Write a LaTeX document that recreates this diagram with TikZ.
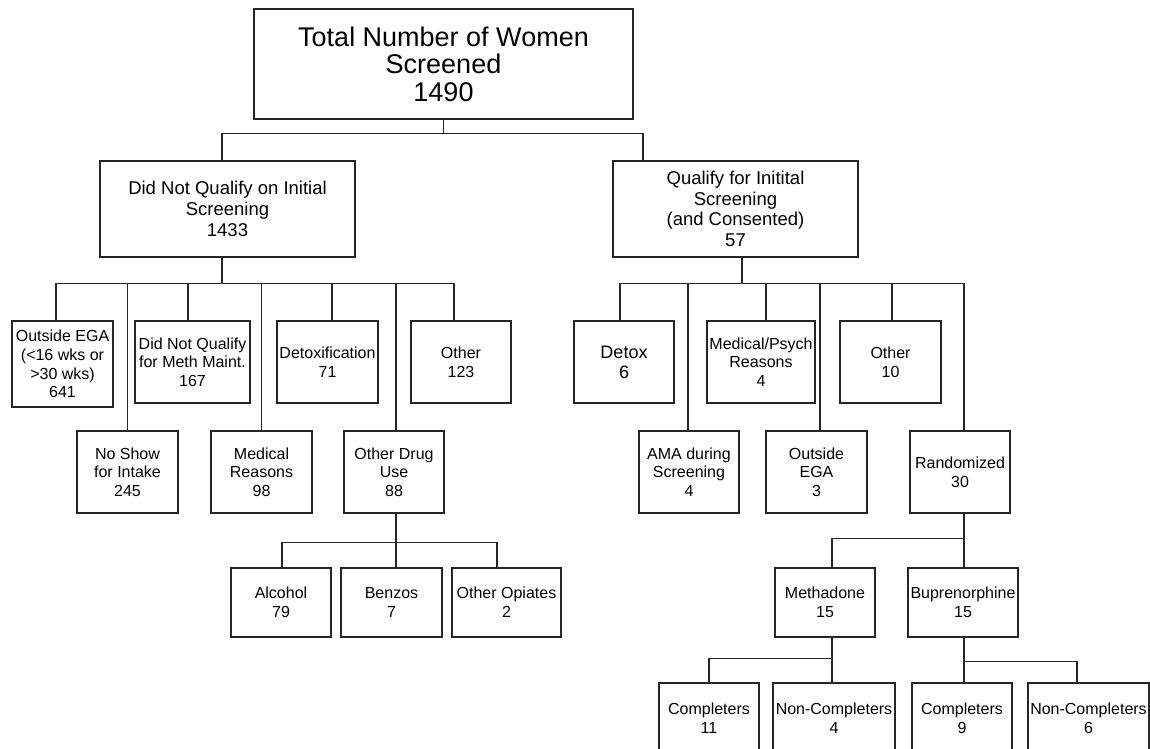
\documentclass[tikz,border=0pt]{standalone}
\usepackage{fontspec}
\setmainfont{Liberation Sans}

\begin{document}
\begin{tikzpicture}[x=1pt,y=-1pt,
    box/.style={rectangle,draw=black!85,line width=1.4pt,inner sep=1pt,align=center,
      minimum width=100pt,minimum height=82pt,font=\fontsize{16}{18.7}\selectfont},
    midbox/.style={box,minimum height=96pt,font=\fontsize{18.5}{20.7}\selectfont},
    lowbox/.style={box,minimum height=69pt},
    link/.style={draw=black!85,line width=1.4pt}]
     \path[fill=white,use as bounding box] (0,0) rectangle (1150,748);
     % top levels
     \node[box,minimum width=379pt,minimum height=110pt,font=\fontsize{27}{27.5}\selectfont]
       (total) at (443.5,64) {Total Number of Women\\Screened\\1490};
     \node[midbox,minimum width=255pt] (notqual) at (227.5,209)
       {Did Not Qualify on Initial\\Screening\\1433};
     \node[midbox,minimum width=245pt] (qual) at (735.5,209)
       {Qualify for Initital\\Screening\\(and Consented)\\57};
     % did not qualify
     \node[box,minimum width=101pt,minimum height=86pt] (outega) at (62.5,364)
       {Outside EGA\\(<16 wks or\\>30 wks)\\641};
     \node[box,minimum width=115pt] (nometh) at (192.5,362) {Did Not Qualify\\for Meth Maint.\\167};
     \node[box,minimum width=101pt] (detoxa) at (327.5,362) {Detoxification\\71};
     \node[box] (othera) at (461,362) {Other\\123};
     \node[box,minimum width=101pt] (noshow) at (127.5,472) {No Show\\for Intake\\245};
     \node[box,minimum width=101pt] (medical) at (261.5,472) {Medical\\Reasons\\98};
     \node[box] (drugs) at (394,472) {Other Drug\\Use\\88};
     \node[lowbox] (alcohol) at (281,602.5) {Alcohol\\79};
     \node[lowbox,minimum width=101pt] (benzos) at (391.5,602.5) {Benzos\\7};
     \node[lowbox,minimum width=109pt] (opiates) at (506.5,602.5) {Other Opiates\\2};
     % qualified
     \node[box,font=\fontsize{18}{20}\selectfont] (detoxb) at (624,362) {Detox\\6};
     \node[box,minimum width=108pt] (psych) at (761,362) {Medical/Psych\\Reasons\\4};
     \node[box,minimum width=101pt] (otherb) at (890.5,362) {Other\\10};
     \node[box] (ama) at (689,472) {AMA during\\Screening\\4};
     \node[box,minimum width=101pt] (outegb) at (816.5,472) {Outside\\EGA\\3};
     \node[box] (random) at (960,472) {Randomized\\30};
     \node[lowbox] (methadone) at (825,602.5) {Methadone\\15};
     \node[lowbox,minimum width=110pt] (bup) at (963,602.5) {Buprenorphine\\15};
     \node[lowbox,minimum height=70pt] (compa) at (709,718) {Completers\\11};
     \node[lowbox,minimum width=122pt,minimum height=70pt] (noncompa) at (834,718) {Non-Completers\\4};
     \node[lowbox,minimum height=70pt] (compb) at (962,718) {Completers\\9};
     \node[lowbox,minimum width=121pt,minimum height=70pt] (noncompb) at (1088.5,718) {Non-Completers\\6};
     % connectors
     \draw[link] (total.south) -- ++(0,14) -| ([xshift=-5.5pt]notqual.north);
     \draw[link] (total.south) -- ++(0,14) -| ([xshift=-92.5pt]qual.north);
     \draw[link] ([xshift=-5.5pt]notqual.south) -- ++(0,26) -| ([xshift=-6.5pt]outega.north);
     \draw[link] ([xshift=-5.5pt]notqual.south) -- ++(0,26) -| (noshow.north);
     \draw[link] ([xshift=-5.5pt]notqual.south) -- ++(0,26) -| ([xshift=-4.5pt]nometh.north);
     \draw[link] ([xshift=-5.5pt]notqual.south) -- ++(0,26) -| (medical.north);
     \draw[link] ([xshift=-5.5pt]notqual.south) -- ++(0,26) -| ([xshift=4.5pt]detoxa.north);
     \draw[link] ([xshift=-5.5pt]notqual.south) -- ++(0,26) -| ([xshift=2pt]drugs.north);
     \draw[link] ([xshift=-5.5pt]notqual.south) -- ++(0,26) -| ([xshift=-7pt]othera.north);
     \draw[link] ([xshift=2pt]drugs.south) -- ++(0,29) -| ([xshift=1pt]alcohol.north);
     \draw[link] ([xshift=2pt]drugs.south) -- ++(0,29) -| ([xshift=4.5pt]benzos.north);
     \draw[link] ([xshift=2pt]drugs.south) -- ++(0,29) -| ([xshift=-9.5pt]opiates.north);
     \draw[link] ([xshift=6.5pt]qual.south) -- ++(0,26) -| ([xshift=-4pt]detoxb.north);
     \draw[link] ([xshift=6.5pt]qual.south) -- ++(0,26) -| ([xshift=-1pt]ama.north);
     \draw[link] ([xshift=6.5pt]qual.south) -- ++(0,26) -| ([xshift=5pt]psych.north);
     \draw[link] ([xshift=6.5pt]qual.south) -- ++(0,26) -| ([xshift=3.5pt]outegb.north);
     \draw[link] ([xshift=6.5pt]qual.south) -- ++(0,26) -| ([xshift=1.5pt]otherb.north);
     \draw[link] ([xshift=6.5pt]qual.south) -- ++(0,26) -| ([xshift=4pt]random.north);
     \draw[link] ([xshift=4pt]random.south) -- ++(0,25) -| ([xshift=7pt]methadone.north);
     \draw[link] ([xshift=4pt]random.south) -- ++(0,25) -| ([xshift=1pt]bup.north);
     \draw[link] ([xshift=7pt]methadone.south) -- ++(0,21) -| (compa.north);
     \draw[link] ([xshift=7pt]methadone.south) -- ++(0,21) -| ([xshift=-2pt]noncompa.north);
     \draw[link] ([xshift=1pt]bup.south) -- ++(0,24) -| ([xshift=2pt]compb.north);
     \draw[link] ([xshift=1pt]bup.south) -- ++(0,24) -| ([xshift=-11.5pt]noncompb.north);
\end{tikzpicture}
\end{document}
